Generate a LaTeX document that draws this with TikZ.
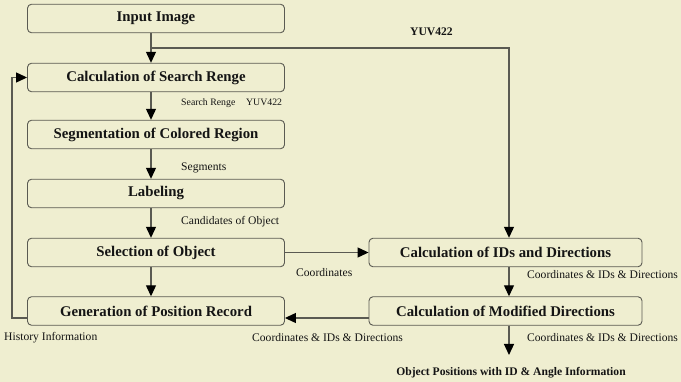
\documentclass[tikz,border=0pt]{standalone}
\usepackage{fontspec}
\setmainfont{Liberation Serif}
\usetikzlibrary{positioning,arrows.meta,calc}
\definecolor{trbg}{HTML}{EFEED0}
\definecolor{trline}{HTML}{5A5A52}
\definecolor{trtext}{HTML}{141414}
\tikzset{
  stage/.style  ={draw=trline, fill=trbg, rounded corners=4pt, line width=0.9pt,
                  minimum width=257pt, minimum height=28.5pt, inner sep=0pt,
                  font=\fontsize{14.8}{16}\selectfont\bfseries, text=trtext},
  flow/.style   ={draw=trline, line width=1.2pt,
                  -{Triangle[length=11pt,width=10pt,color=black]}},
  note/.style   ={font=\fontsize{11.6}{13}\selectfont, text=trtext, inner sep=0pt, anchor=west},
  bnote/.style  ={note, font=\fontsize{11.6}{13}\selectfont\bfseries},
}
\begin{document}
\begin{tikzpicture}[x=1pt,y=-1pt]
  \fill[trbg] (0,0) rectangle (681,382);
  \useasboundingbox (0,0) rectangle (681,382);
  % left column
  \node[stage] (input)  at (156,18.5)  {Input Image};
  \node[stage] (range)  at (156,77.5)  {Calculation of Search Renge};
  \node[stage] (segm)   at (156,134.5) {Segmentation of Colored Region};
  \node[stage] (label)  at (156,193.5) {Labeling};
  \node[stage] (select) at (156,252.5) {Selection of Object};
  \node[stage] (genrec) at (156,311)   {Generation of Position Record};
  % right column
  \node[stage, minimum width=273pt] (calcid) at (505.5,252.5) {Calculation of IDs and Directions};
  \node[stage, minimum width=273pt] (moddir) at (505.5,311)   {Calculation of Modified Directions};
  \coordinate (spine)  at (151,0);
  \coordinate (rspine) at (509,0);
  \coordinate (branch) at (151,48);
  \coordinate (loopx)  at (12,0);
  \coordinate (recy)   at (0,318);
  \coordinate (outend) at (509,355);
  % main flow
  \draw[flow] (input.south -| spine) -- (range.north -| spine);
  \draw[flow] (range.south -| spine) -- (segm.north -| spine);
  \draw[flow] (segm.south -| spine) -- (label.north -| spine);
  \draw[flow] (label.south -| spine) -- (select.north -| spine);
  \draw[flow] (select.south -| spine) -- (genrec.north -| spine);
  \draw[flow] (branch) -- (branch -| rspine) -- (calcid.north -| rspine);
  \draw[flow] (select.east) -- (calcid.west);
  \draw[flow] (calcid.south -| rspine) -- (moddir.north -| rspine);
  \draw[flow] (moddir.west |- recy) -- (genrec.east |- recy);
  \draw[flow] (moddir.south -| rspine) -- (outend);
  \draw[flow] (genrec.west |- recy) -- (loopx |- recy) -- (loopx |- range.west) -- (range.west);
  % labels
  \node[bnote] at (410,32) {YUV422};
  \node[note, font=\fontsize{9.8}{11}\selectfont] at (181,103) {Search Renge\hspace{1.1em}YUV422};
  \node[note]  at (181,168) {Segments};
  \node[note]  at (181,222) {Candidates of Object};
  \node[note]  at (296,273) {Coordinates};
  \node[note]  at (527,275) {Coordinates \& IDs \& Directions};
  \node[note]  at (4,338)   {History Information};
  \node[note]  at (252,338) {Coordinates \& IDs \& Directions};
  \node[note]  at (527,338) {Coordinates \& IDs \& Directions};
  \node[bnote, anchor=center] at (511,373) {Object Positions with ID \& Angle Information};
\end{tikzpicture}
\end{document}
